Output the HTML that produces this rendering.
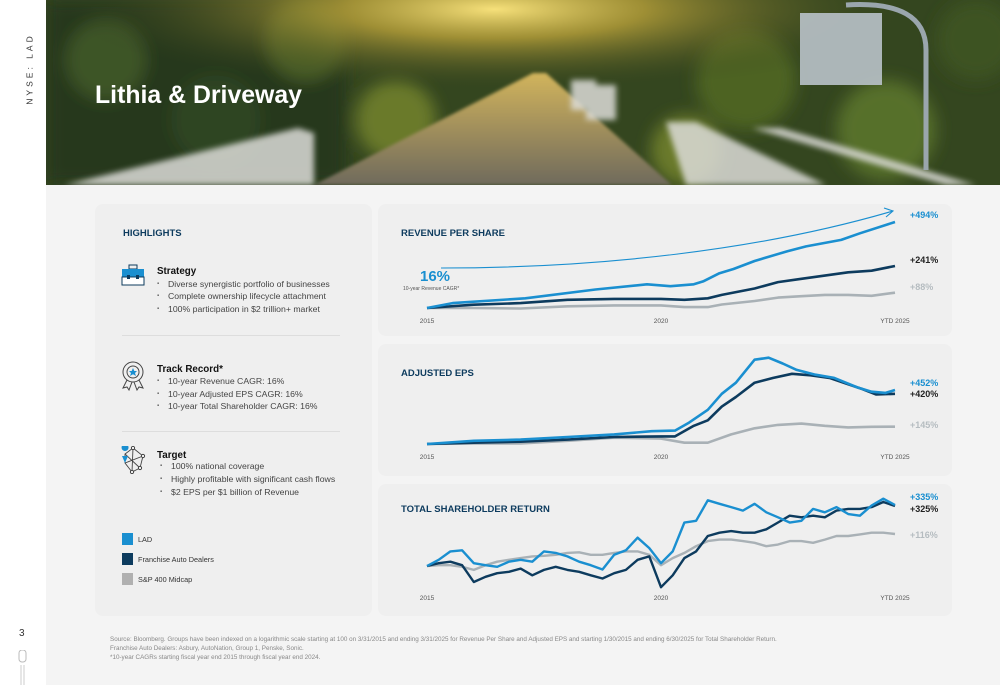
<!DOCTYPE html>
<html><head><meta charset="utf-8"><style>
*{margin:0;padding:0;box-sizing:border-box}
body{width:1000px;height:685px;background:#fff;font-family:"Liberation Sans",sans-serif;position:relative;overflow:hidden}
.abs{position:absolute}
.page{left:46px;top:0;width:954px;height:685px;background:#f4f4f4}
.panel{background:#efefef;border-radius:8px}
.t{position:absolute;white-space:nowrap}
.h{color:#0d3b5e;font-weight:bold;font-size:9.5px}
.sub{font-weight:bold;font-size:9.8px;color:#111}
.b{font-size:8.7px;color:#444}
.b:before{content:"▪";font-size:6px;position:absolute;left:-11px;top:2px;color:#666}
.lab{font-size:6.5px;color:#555}
.end{font-size:9px;font-weight:bold}
.foot{font-size:6.3px;color:#888;left:110px}
</style></head><body>
<div class="abs page"></div>
<div class="t" style="left:-6px;top:64px;transform:rotate(-90deg);font-size:8.5px;letter-spacing:3px;color:#333">NYSE: LAD</div>
<div class="t" style="left:19px;top:628px;font-size:10px;color:#333">3</div>
<svg class="abs" style="left:17px;top:650px" width="12" height="35"><rect x="2" y="0" width="7" height="12" rx="3" fill="none" stroke="#bbb"/><line x1="4" y1="15" x2="4" y2="35" stroke="#ccc"/><line x1="7" y1="15" x2="7" y2="35" stroke="#ccc"/></svg>

<svg class="abs" style="left:46px;top:0" width="954" height="185">
<defs>
<radialGradient id="sun" cx="0.47" cy="0.05" r="0.45"><stop offset="0" stop-color="#f6e07a"/><stop offset="0.35" stop-color="#b9a13a" stop-opacity="0.8"/><stop offset="1" stop-color="#2e3d1c" stop-opacity="0"/></radialGradient>
<linearGradient id="road" x1="0" y1="0" x2="0" y2="1"><stop offset="0" stop-color="#d2b45c"/><stop offset="1" stop-color="#6f6a5c"/></linearGradient>
<filter id="bl"><feGaussianBlur stdDeviation="3"/></filter>
<filter id="bl2"><feGaussianBlur stdDeviation="1.5"/></filter>
<filter id="bl8"><feGaussianBlur stdDeviation="8"/></filter>
</defs>
<rect width="954" height="185" fill="#34461f"/>
<g filter="url(#bl8)">
<rect x="0" y="0" width="300" height="185" fill="#26371a"/>
<circle cx="60" cy="60" r="40" fill="#3c5526"/><circle cx="170" cy="120" r="45" fill="#2f4420"/>
<circle cx="260" cy="40" r="40" fill="#4a5e26"/><circle cx="700" cy="80" r="50" fill="#4d6424"/>
<circle cx="840" cy="130" r="50" fill="#56702a"/><circle cx="930" cy="40" r="40" fill="#3d5222"/>
<circle cx="350" cy="120" r="40" fill="#6b7a2c"/><circle cx="640" cy="150" r="35" fill="#6b7a2c"/>
</g>
<rect width="954" height="185" fill="url(#sun)"/>
<polygon points="487,73 500,73 626,185 268,185" fill="url(#road)" filter="url(#bl2)"/>
<g filter="url(#bl)" fill="#dcdcd8" opacity="0.85">
<polygon points="18,185 252,128 268,133 268,185"/>
<polygon points="620,122 650,122 780,185 640,185"/>
<polygon points="706,128 735,128 930,185 900,185"/>
<rect x="525" y="80" width="25" height="30"/><rect x="540" y="85" width="30" height="35"/>
</g>
<rect x="754" y="13" width="82" height="72" fill="#b9c2c9" opacity="0.9"/>
<path d="M800,5 Q880,0 880,50 L880,170" stroke="#9aa6ad" stroke-width="5" fill="none"/>
<text x="49" y="103" font-family="Liberation Sans" font-size="25" font-weight="bold" fill="#fff" textLength="207" lengthAdjust="spacingAndGlyphs">Lithia &amp; Driveway</text>
</svg>

<div class="abs panel" style="left:95px;top:204px;width:277px;height:412px"></div>
<div class="abs panel" style="left:378px;top:204px;width:574px;height:132px"></div>
<div class="abs panel" style="left:378px;top:344px;width:574px;height:132px"></div>
<div class="abs panel" style="left:378px;top:484px;width:574px;height:132px"></div>

<div class="t h" style="left:123px;top:228px">HIGHLIGHTS</div>
<svg class="abs" style="left:121px;top:264px" width="24" height="22"><rect x="8" y="1" width="8" height="4" fill="none" stroke="#0d3b5e"/><rect x="1" y="5" width="22" height="8" fill="#1a8fd0"/><rect x="1" y="13" width="22" height="8" fill="#fff" stroke="#0d3b5e"/><rect x="6" y="11" width="3" height="4" fill="#0d3b5e"/><rect x="15" y="11" width="3" height="4" fill="#0d3b5e"/></svg>
<div class="t sub" style="left:157px;top:266px">Strategy</div>
<div class="t b" style="left:168px;top:279px">Diverse synergistic portfolio of businesses</div>
<div class="t b" style="left:168px;top:291px">Complete ownership lifecycle attachment</div>
<div class="t b" style="left:168px;top:304px">100% participation in $2 trillion+ market</div>
<div class="abs" style="left:122px;top:335px;width:218px;height:1px;background:#ddd"></div>
<svg class="abs" style="left:121px;top:361px" width="24" height="30"><circle cx="12" cy="11" r="10" fill="none" stroke="#444"/><circle cx="12" cy="11" r="6" fill="none" stroke="#444"/><polygon points="12,7 13.3,10 16,10 14,12 15,15 12,13.3 9,15 10,12 8,10 10.7,10" fill="#1a8fd0"/><path d="M6,19 L2,27 L6,26 L8,29 L11,21 M18,19 L22,27 L18,26 L16,29 L13,21" fill="none" stroke="#444"/></svg>
<div class="t sub" style="left:157px;top:364px">Track Record*</div>
<div class="t b" style="left:168px;top:376px">10-year Revenue CAGR: 16%</div>
<div class="t b" style="left:168px;top:389px">10-year Adjusted EPS CAGR: 16%</div>
<div class="t b" style="left:168px;top:401px">10-year Total Shareholder CAGR: 16%</div>
<div class="abs" style="left:122px;top:431px;width:218px;height:1px;background:#ddd"></div>
<svg class="abs" style="left:120px;top:446px" width="26" height="28"><g fill="none" stroke="#444" stroke-width="0.9"><path d="M5,8 L13,2 L23,10 L20,22 L12,26 L5,17 Z M13,2 L12,26 M5,8 L20,22 M23,10 L5,17"/></g><circle cx="13" cy="2" r="1.6" fill="#fff" stroke="#444"/><circle cx="23" cy="10" r="1.6" fill="#fff" stroke="#444"/><circle cx="20" cy="22" r="1.6" fill="#fff" stroke="#444"/><circle cx="12" cy="26" r="1.6" fill="#fff" stroke="#444"/><path d="M5,5 a3.5,3.5 0 1 1 0.1,0 Z" fill="#1a8fd0"/><path d="M2,10 Q5,17 5,17 Q5,17 8,10 Z" fill="#1a8fd0"/></svg>
<div class="t sub" style="left:157px;top:450px">Target</div>
<div class="t b" style="left:171px;top:461px">100% national coverage</div>
<div class="t b" style="left:171px;top:474px">Highly profitable with significant cash flows</div>
<div class="t b" style="left:171px;top:487px">$2 EPS per $1 billion of Revenue</div>

<div class="abs" style="left:122px;top:533px;width:11px;height:12px;background:#1a8fd0"></div>
<div class="t" style="left:138px;top:535px;font-size:7.3px;color:#333">LAD</div>
<div class="abs" style="left:122px;top:553px;width:11px;height:12px;background:#0d3b5e"></div>
<div class="t" style="left:138px;top:555px;font-size:7.3px;color:#333">Franchise Auto Dealers</div>
<div class="abs" style="left:122px;top:573px;width:11px;height:12px;background:#b0b0b0"></div>
<div class="t" style="left:138px;top:575px;font-size:7.3px;color:#333">S&amp;P 400 Midcap</div>

<div class="t h" style="left:401px;top:228px">REVENUE PER SHARE</div>
<div class="t h" style="left:401px;top:368px">ADJUSTED EPS</div>
<div class="t h" style="left:401px;top:504px">TOTAL SHAREHOLDER RETURN</div>
<div class="t" style="left:420px;top:268px;font-size:15px;font-weight:bold;color:#1a8fd0">16%</div>
<div class="t" style="left:403px;top:286px;font-size:5px;color:#555">10-year Revenue CAGR*</div>

<svg id="charts" class="abs" style="left:0;top:0" width="1000" height="685"></svg>

<div class="t foot" style="top:636px">Source: Bloomberg. Groups have been indexed on a logarithmic scale starting at 100 on 3/31/2015 and ending 3/31/2025 for Revenue Per Share and Adjusted EPS and starting 1/30/2015 and ending 6/30/2025 for Total Shareholder Return.</div>
<div class="t foot" style="top:645px">Franchise Auto Dealers: Asbury, AutoNation, Group 1, Penske, Sonic.</div>
<div class="t foot" style="top:654px">*10-year CAGRs starting fiscal year end 2015 through fiscal year end 2024.</div>

<script>
// Revenue per share (% growth)
const revYearsLAD=[2015,2015.55,2017.1,2018.6,2019.7,2020.2,2020.7,2020.9,2021.25,2021.55,2022,2022.7,2023.1,2023.85,2024.25,2025];
const revLAD=[0,28,56,106,136,125,136,153,200,224,270,326,354,391,429,494];
const revYearsOther=[2015,2016,2017,2018,2019,2020,2020.5,2021,2021.3,2022,2022.5,2023,2023.5,2024,2024.5,2025];
const revFranchise=[0,19,28,47,52,52,47,56,75,112,149,168,186,205,214,241];
const revSP=[0,0,-3,10,15,15,5,5,20,40,60,68,75,75,70,88];
// Adjusted EPS (% growth)
const epsYearsLAD=[2015,2016,2017,2018,2019,2019.8,2020.3,2020.6,2021,2021.3,2021.6,2022,2022.3,2022.6,2022.9,2023.3,2023.7,2024.2,2024.5,2024.8,2025];
const epsLAD=[0,27,37,59,80,107,112,179,286,420,513,706,722,674,620,580,553,473,438,428,452];
const epsYearsFr=[2015,2016,2017,2018,2019,2020,2020.3,2020.7,2021,2021.3,2021.6,2022,2022.4,2022.8,2023.2,2023.6,2024,2024.3,2024.6,2025];
const epsFranchise=[0,11,19,37,59,64,64,152,198,313,393,513,553,588,575,553,500,460,414,420];
const epsYearsSP=[2015,2016,2017,2018,2019,2020,2020.5,2021,2021.5,2022,2022.5,2023,2023.5,2024,2024.5,2025];
const epsSP=[0,5,5,27,53,45,11,11,80,131,160,171,152,139,144,145];
// TSR (index, 100 = start), quarterly
const tsrLAD=[100,116,142,146,107,102,98,111,116,111,142,137,126,111,102,92,131,146,198,154,107,142,285,297,487,448,413,380,448,365,323,285,297,396,365,413,350,336,430,506,435];
const tsrFranchise=[100,107,111,102,68,77,84,87,94,80,91,98,91,87,80,74,84,91,116,126,60,80,121,142,206,223,232,223,223,242,285,336,323,336,323,380,396,396,413,467,425];
const tsrSP=[100,102,102,98,91,102,111,116,121,126,128,131,137,139,131,131,137,142,142,131,102,121,137,161,182,189,189,182,175,161,168,182,182,175,189,206,206,214,223,223,216];
const tickLabels=["2015","2020","YTD 2025"];
const tickYears=[2015,2020,2025];
const endLabelsRev=["+494%","+241%","+88%"];
const endLabelsEps=["+452%","+420%","+145%"];
const endLabelsTsr=["+335%","+325%","+116%"];
const colors=["#1a8fd0","#0d3b5e","#a9b1b6"];
const NS="http://www.w3.org/2000/svg";
const svg=document.getElementById('charts');
const X=y=>427+(y-2015)*(895-427)/10;
const Yrev=v=>308-v*86/494;
const Yeps=v=>444-v*54/452;
const Ytsr=v=>566-41.5*Math.log(v/100);
function line(xs,vs,ysc,col,name,w){
  const p=document.createElementNS(NS,'polyline');
  p.setAttribute('points',vs.map((v,i)=>X(xs[i]).toFixed(1)+','+ysc(v).toFixed(1)).join(' '));
  p.setAttribute('fill','none');p.setAttribute('stroke',col);p.setAttribute('stroke-width',w||2.6);
  p.setAttribute('stroke-linejoin','round');
  
  
  svg.appendChild(p);
}
function txt(x,y,s,size,col,weight,name,anchor){
  const t=document.createElementNS(NS,'text');
  t.setAttribute('x',x);t.setAttribute('y',y);t.textContent=s;
  t.setAttribute('font-family','Liberation Sans');t.setAttribute('font-size',size);t.setAttribute('fill',col);
  if(weight)t.setAttribute('font-weight',weight);
  if(anchor)t.setAttribute('text-anchor',anchor);
  
  
  svg.appendChild(t);
}
const arr=document.createElementNS(NS,'path');
arr.setAttribute('d','M441,268 C600,268 760,250 893,211 M884,208 L893,211 L886,217');
arr.setAttribute('fill','none');arr.setAttribute('stroke','#1a8fd0');arr.setAttribute('stroke-width','1.1');


svg.appendChild(arr);
line(revYearsOther,revSP,Yrev,colors[2],'revenue-line-sp400');
line(revYearsOther,revFranchise,Yrev,colors[1],'revenue-line-franchise');
line(revYearsLAD,revLAD,Yrev,colors[0],'revenue-line-lad');
line(epsYearsSP,epsSP,Yeps,colors[2],'eps-line-sp400');
line(epsYearsFr,epsFranchise,Yeps,colors[1],'eps-line-franchise');
line(epsYearsLAD,epsLAD,Yeps,colors[0],'eps-line-lad');
const q=tsrLAD.map((_,i)=>2015+i*0.25);
line(q,tsrSP,Ytsr,colors[2],'tsr-line-sp400',2.4);
line(q,tsrFranchise,Ytsr,colors[1],'tsr-line-franchise',2.4);
line(q,tsrLAD,Ytsr,colors[0],'tsr-line-lad',2.4);
[[323,'revenue'],[459,'eps'],[600,'tsr']].forEach(([yy,n])=>{
  tickYears.forEach((ty,i)=>txt(X(ty),yy,tickLabels[i],6.5,'#555',null,n+'-x-tick-'+i,'middle'));
});
const endY=[[218,263,290],[386,397,428],[500,512,538]];
[endLabelsRev,endLabelsEps,endLabelsTsr].forEach((arrL,k)=>{
  arrL.forEach((s,i)=>txt(910,endY[k][i],s,9,i==2?'#b5bcc0':(i==1?'#222':colors[0]),'bold',['revenue','eps','tsr'][k]+'-end-label-'+i));
});
</script>
</body></html>
